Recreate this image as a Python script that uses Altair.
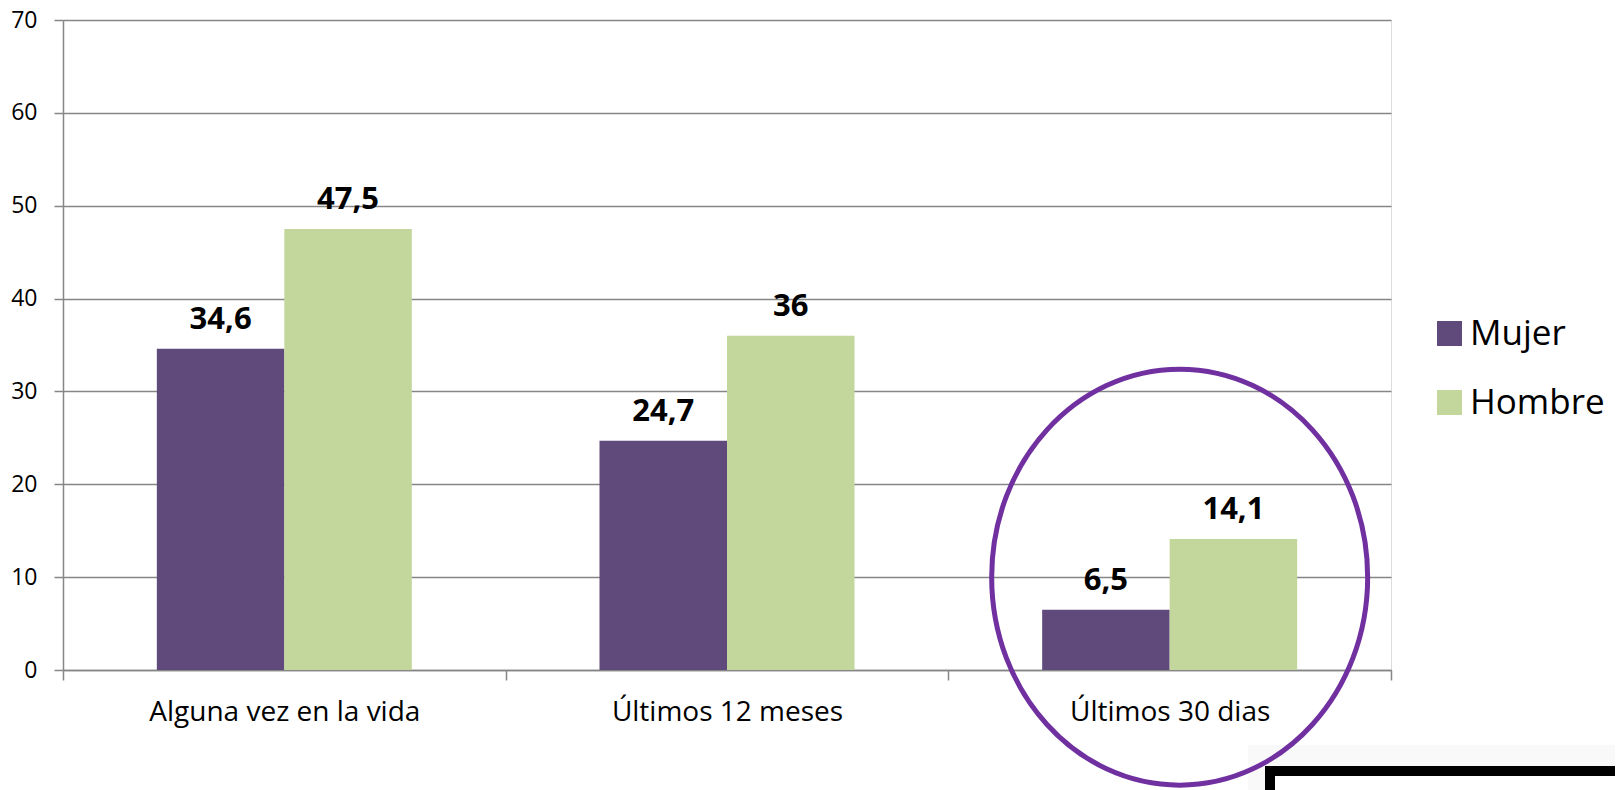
import altair as alt
import pandas as pd

# ---- data ----
periodos = ["Alguna vez en la vida", "Últimos 12 meses", "Últimos 30 dias"]
sexos = ["Mujer", "Hombre"]
mujer = [34.6, 24.7, 6.5]
hombre = [47.5, 36, 14.1]
colores = ["#604A7B", "#C3D69B"]
y_ticks = [0, 10, 20, 30, 40, 50, 60, 70]

# highlighted category (ellipse annotation)
destacado_periodo = ["Últimos 30 dias"]
destacado_centro = [10]

rows = []
for i, p in enumerate(periodos):
    rows.append({"periodo": p, "sexo": "Mujer", "valor": mujer[i]})
    rows.append({"periodo": p, "sexo": "Hombre", "valor": hombre[i]})
df = pd.DataFrame(rows)
df_hl = pd.DataFrame({"periodo": destacado_periodo, "valor": destacado_centro})

FONT = "Open Sans"
GRAY = "#868686"

x_enc = alt.X(
    "periodo:N",
    sort=periodos,
    title=None,
    scale=alt.Scale(paddingInner=0, paddingOuter=0),
    axis=alt.Axis(
        labelAngle=0,
        labelFont=FONT,
        labelFontSize=28,
        labelColor="#000000",
        labelPadding=18,
        labelLimit=0,
        tickBand="extent",
        tickSize=10,
        tickColor=GRAY,
        tickWidth=1.5,
        domainColor=GRAY,
        domainWidth=1.5,
        grid=False,
    ),
)
y_enc = alt.Y(
    "valor:Q",
    title=None,
    scale=alt.Scale(domain=[0, 70], nice=False),
    axis=alt.Axis(
        values=y_ticks,
        labelFont=FONT,
        labelFontSize=23,
        labelColor="#000000",
        labelPadding=17,
        tickSize=9,
        tickColor=GRAY,
        tickWidth=1.5,
        domainColor=GRAY,
        domainWidth=1.5,
        gridColor=GRAY,
        gridWidth=1.3,
    ),
)
xoff = alt.XOffset("sexo:N", sort=sexos,
                   scale=alt.Scale(paddingInner=0, paddingOuter=0.736))

bars = alt.Chart(df).mark_bar().encode(
    x=x_enc,
    xOffset=xoff,
    y=y_enc,
    color=alt.Color(
        "sexo:N",
        sort=sexos,
        scale=alt.Scale(domain=sexos, range=colores),
        legend=alt.Legend(
            title=None,
            orient="none",
            legendX=1369,
            legendY=296,
            symbolType="square",
            symbolSize=625,
            symbolStrokeWidth=0,
            labelFont=FONT,
            labelFontSize=35,
            labelColor="#000000",
            labelOffset=3,
            rowPadding=33,
        ),
    ),
)

labels = alt.Chart(df).transform_calculate(
    etiqueta="replace(toString(datum.valor), '.', ',')"
).mark_text(
    font=FONT, fontSize=31, fontWeight="bold", color="#000000",
    baseline="alphabetic", dy=-20,
).encode(
    x=alt.X("periodo:N", sort=periodos),
    xOffset=xoff,
    y=alt.Y("valor:Q"),
    text="etiqueta:N",
)

# ellipse around the highlighted category
rx, ry = 188.0, 208.0
a = rx / ry
k = 0.5523
ka = k * a
ellipse_path = (
    f"M 0,-1 C {ka:.4f},-1 {a:.4f},-{k} {a:.4f},0 "
    f"C {a:.4f},{k} {ka:.4f},1 0,1 "
    f"C -{ka:.4f},1 -{a:.4f},{k} -{a:.4f},0 "
    f"C -{a:.4f},-{k} -{ka:.4f},-1 0,-1 Z"
)
ellipse = alt.Chart(df_hl).mark_point(
    shape=ellipse_path,
    size=(2 * ry) ** 2,
    filled=False,
    stroke="#7030A0",
    strokeWidth=5,
    opacity=1,
    xOffset=10,
).encode(
    x=alt.X("periodo:N", sort=periodos),
    y=alt.Y("valor:Q"),
)

# stray framed box in the bottom-right corner of the screenshot
shadow = alt.Chart(df_hl).mark_rect(fill="#f9f9f9").encode(
    x=alt.value(1185), x2=alt.value(1800), y=alt.value(725), y2=alt.value(900)
)
box = alt.Chart(df_hl).mark_rect(fill="#ffffff", stroke="#000000", strokeWidth=10).encode(
    x=alt.value(1207), x2=alt.value(1800), y=alt.value(751), y2=alt.value(900)
)

chart = alt.layer(shadow, box, bars, labels, ellipse).properties(
    width=1328,
    height=650,
    autosize=alt.AutoSizeParams(type="none"),
    padding={"left": 55, "top": 12, "right": 224, "bottom": 120},
).configure_view(stroke=None).configure(background="#ffffff")

chart.save("out.html", embed_options={"renderer": "svg", "actions": False})
